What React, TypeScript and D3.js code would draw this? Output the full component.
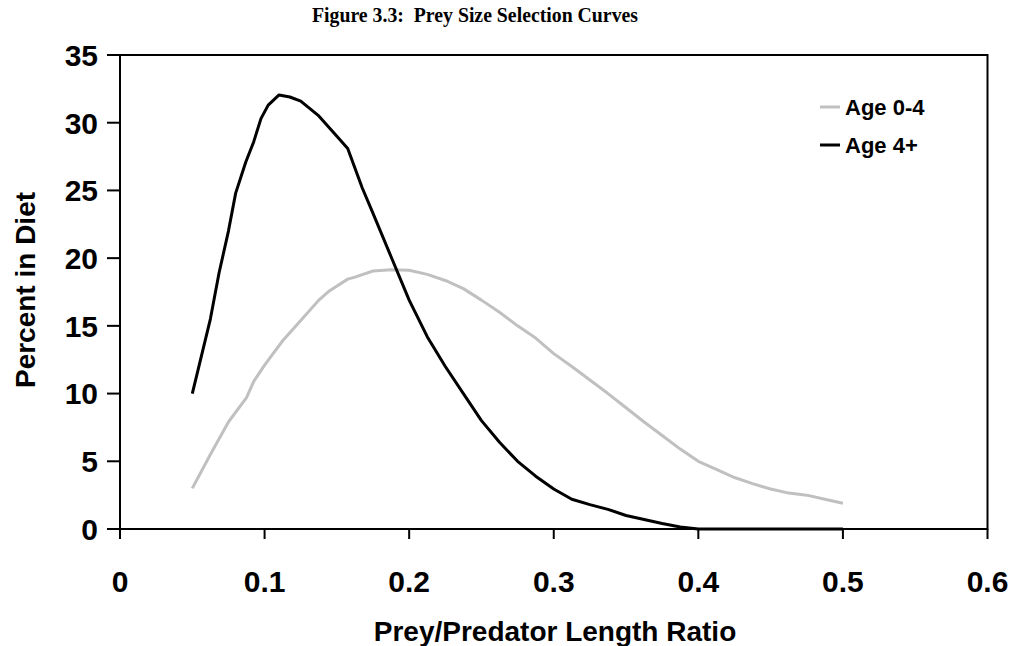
import React from "react";
import * as d3 from "d3";

const xTicks = [0, 0.1, 0.2, 0.3, 0.4, 0.5, 0.6];
const yTicks = [0, 5, 10, 15, 20, 25, 30, 35];

const ageYoungX = [0.05, 0.0625, 0.075, 0.0875, 0.0925, 0.1, 0.1125, 0.125, 0.1375, 0.145, 0.1575, 0.1625, 0.175, 0.1875, 0.2, 0.2125, 0.225, 0.2375, 0.25, 0.2625, 0.275, 0.2875, 0.3, 0.3125, 0.325, 0.3375, 0.35, 0.3625, 0.375, 0.3875, 0.4, 0.4125, 0.425, 0.4375, 0.45, 0.4625, 0.475, 0.4875, 0.5];
const ageYoungY = [3, 5.5, 7.9, 9.7, 10.9, 12.1, 13.9, 15.4, 16.9, 17.6, 18.45, 18.6, 19.05, 19.15, 19.1, 18.8, 18.35, 17.75, 16.9, 16.0, 15.0, 14.1, 12.95, 12.0, 11.0, 10.0, 8.95, 7.9, 6.9, 5.9, 5.0, 4.4, 3.8, 3.35, 2.95, 2.65, 2.5, 2.2, 1.9];

const ageOldX = [0.05, 0.0625, 0.0685, 0.075, 0.08, 0.087, 0.0925, 0.0975, 0.1025, 0.11, 0.1175, 0.125, 0.1375, 0.15, 0.1575, 0.1675, 0.175, 0.1875, 0.2, 0.2125, 0.225, 0.2375, 0.25, 0.2625, 0.275, 0.2875, 0.3, 0.3125, 0.325, 0.3375, 0.35, 0.3625, 0.375, 0.3875, 0.4, 0.425, 0.45, 0.475, 0.5];
const ageOldY = [10, 15.5, 18.9, 22, 24.8, 27.1, 28.6, 30.3, 31.3, 32.05, 31.9, 31.6, 30.5, 29.0, 28.1, 25.2, 23.3, 20.1, 16.9, 14.2, 12.0, 10.0, 8.0, 6.4, 5.0, 3.9, 2.95, 2.2, 1.8, 1.45, 1.0, 0.7, 0.4, 0.15, 0, 0, 0, 0, 0];

const seriesNames = ["Age 0-4", "Age 4+"];
const seriesColors = ["#c0c0c0", "#000000"];

const title = "Figure 3.3:\u00a0 Prey Size Selection Curves";
const xTitle = "Prey/Predator Length Ratio";
const yTitle = "Percent in Diet";

export default function App() {
  const W = 1015;
  const H = 646;
  const left = 120, right = 987.5, top = 55, bottom = 529;
  const x = d3.scaleLinear().domain([0, 0.6]).range([left, right]);
  const y = d3.scaleLinear().domain([0, 35]).range([bottom, top]);
  const line = d3
    .line<[number, number]>()
    .x((d) => x(d[0]))
    .y((d) => y(d[1]));
  const young: [number, number][] = ageYoungX.map((v, i) => [v, ageYoungY[i]]);
  const old: [number, number][] = ageOldX.map((v, i) => [v, ageOldY[i]]);
  const sans = "Arial, 'Liberation Sans', Helvetica, sans-serif";
  const serif = "'Times New Roman', 'Liberation Serif', serif";
  return (
    <svg
      width={W}
      height={H}
      style={{ position: "absolute", left: 0, top: 0, background: "#fff" }}
    >
      <rect x={0} y={0} width={W} height={H} fill="#fff" />
      <text
        x={475}
        y={22}
        textAnchor="middle"
        fontFamily={serif}
        fontWeight="bold"
        fontSize={20}
        textLength={326}
        lengthAdjust="spacingAndGlyphs"
      >
        {title}
      </text>
      <rect
        x={left}
        y={top}
        width={right - left}
        height={bottom - top}
        fill="none"
        stroke="#000"
        strokeWidth={2}
      />
      {yTicks.map((t) => (
        <g key={"y" + t}>
          <line x1={left - 13} x2={left} y1={y(t)} y2={y(t)} stroke="#000" strokeWidth={2} />
          <text
            x={98}
            y={y(t)}
            dy="0.36em"
            textAnchor="end"
            fontFamily={sans}
            fontWeight="bold"
            fontSize={30}
          >
            {t}
          </text>
        </g>
      ))}
      {xTicks.map((t) => (
        <g key={"x" + t}>
          <line x1={x(t)} x2={x(t)} y1={bottom} y2={bottom + 10} stroke="#000" strokeWidth={2} />
          <text
            x={x(t)}
            y={592}
            textAnchor="middle"
            fontFamily={sans}
            fontWeight="bold"
            fontSize={30}
          >
            {t}
          </text>
        </g>
      ))}
      <path d={line(young) || ""} fill="none" stroke={seriesColors[0]} strokeWidth={3} strokeLinejoin="round" />
      <path d={line(old) || ""} fill="none" stroke={seriesColors[1]} strokeWidth={3} strokeLinejoin="round" />
      {seriesNames.map((n, i) => (
        <g key={n}>
          <line x1={820} x2={840} y1={107 + i * 38} y2={107 + i * 38} stroke={seriesColors[i]} strokeWidth={3} />
          <text
            x={845}
            y={107 + i * 38}
            dy="0.36em"
            fontFamily={sans}
            fontWeight="bold"
            fontSize={22}
          >
            {n}
          </text>
        </g>
      ))}
      <text
        x={555}
        y={641}
        textAnchor="middle"
        fontFamily={sans}
        fontWeight="bold"
        fontSize={28}
      >
        {xTitle}
      </text>
      <text
        transform={`translate(35,290) rotate(-90)`}
        textAnchor="middle"
        fontFamily={sans}
        fontWeight="bold"
        fontSize={28}
      >
        {yTitle}
      </text>
    </svg>
  );
}
